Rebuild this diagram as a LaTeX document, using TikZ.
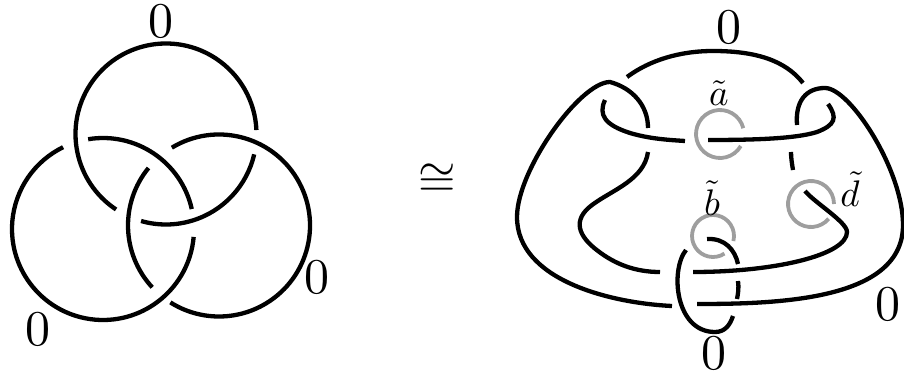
\documentclass[tikz,border=0pt]{standalone}
\begin{document}
\begin{tikzpicture}[x=1pt,y=-1pt,
 knot/.style={line width=4.3pt,black},
 ring/.style={line width=3.8pt,black!38},
 lab/.style={inner sep=0pt,scale=5},
 tlab/.style={inner sep=0pt,scale=3.7}]
\useasboundingbox (0,0) rectangle (904,374);
% left
\draw[knot] (166,134) ++(123.5:90.5) arc[start angle=123.5,end angle=357.5,radius=90.5];
\draw[knot] (166,134) ++(13:90.5) arc[start angle=13,end angle=106,radius=90.5];
\draw[knot] (103,229) ++(5:91) arc[start angle=5,end angle=244,radius=91];
\draw[knot] (103,229) ++(260.6:91) arc[start angle=260.6,end angle=347.3,radius=91];
\draw[knot] (219,225.5) ++(238.8:91) arc[start angle=238.8,end angle=482.3,radius=91];
\draw[knot] (219,225.5) ++(137.2:91) arc[start angle=137.2,end angle=219.2,radius=91];
\node[lab] (l1) at (161,21) {0};
\node[lab] (l2) at (317,277) {0};
\node[lab] (l3) at (38,329) {0};
\node[tlab,scale=1.3] (cong) at (437.5,180) {$\cong$};
% right gray
\draw[ring] (720,134) ++(30:24) arc[start angle=30,end angle=346,radius=24];
\draw[ring] (713,236) ++(57:21) arc[start angle=57,end angle=374,radius=21];
\draw[ring] (811,204) ++(40:23) arc[start angle=40,end angle=360,radius=23];
% right strands
\draw[knot] (672,306) .. controls (610,303) and (517,280) .. (517,217) .. controls (517,170) and (580,82) .. (610,82) .. controls (632,88) and (648,105) .. (648,128);
\draw[knot] (605,100) .. controls (598,115) and (605,125) .. (630,133) .. controls (650,139) and (670,140) .. (685,141);
\draw[knot] (627,77) .. controls (650,60) and (680,51) .. (713,51) .. controls (755,51) and (785,60) .. (803,83);
\draw[knot] (797,125) .. controls (795,100) and (807,88) .. (825,88) .. controls (850,88) and (903,170) .. (903,225) .. controls (903,300) and (780,304) .. (697,304);
\draw[knot] (828,104) .. controls (838,118) and (835,125) .. (817,132) .. controls (795,139) and (750,140) .. (708,140);
\draw[knot] (648,152) .. controls (644,180) and (612,190) .. (592,205) .. controls (572,220) and (578,236) .. (598,251) .. controls (615,264) and (635,272) .. (660,272);
\draw[knot] (791,152) .. controls (791,158) and (792,164) .. (793,170);
\draw[knot] (805,191) .. controls (815,203) and (847,222) .. (847,232) .. controls (847,255) and (775,272) .. (693,272);
\draw[knot] (707,239) .. controls (725,238) and (735,250) .. (738,264);
\draw[knot] (738,281) .. controls (739,288) and (738,294) .. (737,299);
\draw[knot] (686,250) .. controls (670,270) and (675,332) .. (715,332) .. controls (725,332) and (730,325) .. (733,316);
\node[tlab] (ta) at (719,93) {$\tilde a$};
\node[tlab] (tb) at (712,198) {$\tilde b$};
\node[tlab] (td) at (850,189) {$\tilde d$};
\node[lab] (r1) at (729,27) {0};
\node[lab] (r2) at (888,304) {0};
\node[lab] (r3) at (714,353) {0};
\end{tikzpicture}
\end{document}
